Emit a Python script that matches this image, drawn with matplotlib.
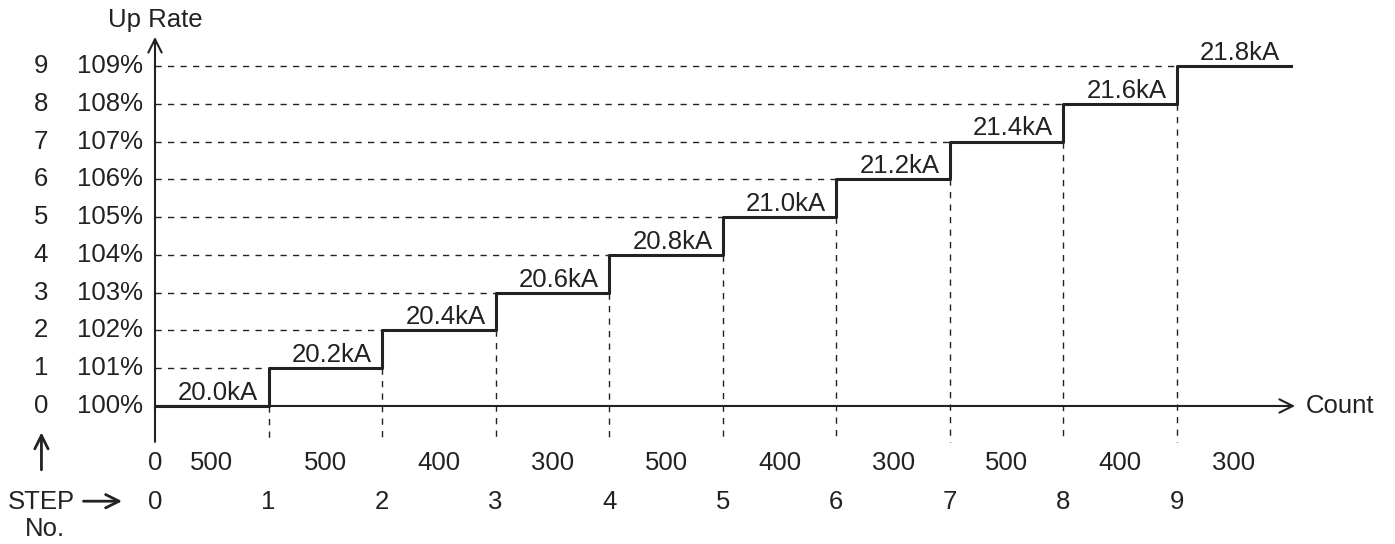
import matplotlib.pyplot as plt

# step data
steps = [0, 1, 2, 3, 4, 5, 6, 7, 8, 9]
rates = [100, 101, 102, 103, 104, 105, 106, 107, 108, 109]
currents = ['20.0kA', '20.2kA', '20.4kA', '20.6kA', '20.8kA',
            '21.0kA', '21.2kA', '21.4kA', '21.6kA', '21.8kA']
counts = [500, 500, 400, 300, 500, 400, 300, 500, 400, 300]

plt.rcParams['font.family'] = ['Liberation Sans', 'DejaVu Sans']
FS = 18.5
INK = '#222222'
DASH = (0, (4.5, 4.5))

fig = plt.figure(figsize=(13.95, 5.44), dpi=100)
ax = fig.add_axes([0, 0, 1, 1])
ax.set_xlim(-1.365, 10.92)
ax.set_ylim(96.347, 110.746)
ax.axis('off')

x_end = steps[-1] + 1
arrow = dict(arrowstyle='->', lw=1.5, color=INK, mutation_scale=24, shrinkA=0, shrinkB=0)

# dashed guides
for s, r in zip(steps[1:], rates[1:]):
    ax.plot([0, s], [r, r], color=INK, lw=1.0, linestyle=DASH)
for s, r in zip(steps[1:], rates[:-1]):
    ax.plot([s, s], [r, 99.05], color=INK, lw=1.0, linestyle=DASH)

# axes with arrows
ax.annotate('', xy=(0, 109.77), xytext=(0, 99.05), arrowprops=arrow)
ax.annotate('', xy=(10.04, 100), xytext=(0, 100), arrowprops=arrow)

# step line
ax.step(steps + [x_end], rates + [rates[-1]], where='post', color=INK, lw=2.2)

# current labels above each level
for s, r, c in zip(steps, rates, currents):
    ax.text(s + 1 - 0.09, r + 0.16, c, ha='right', va='baseline', fontsize=FS, color=INK)

# left labels
for s, r in zip(steps, rates):
    ax.text(-1.004, r, str(s), ha='center', va='center', fontsize=FS, color=INK)
    ax.text(-0.106, r, f'{r}%', ha='right', va='center', fontsize=FS, color=INK)

ax.text(0, 110.22, 'Up Rate', ha='center', va='center', fontsize=FS, color=INK)
ax.text(10.13, 100, 'Count', ha='left', va='center', fontsize=FS, color=INK)

# count row
ax.text(0, 98.49, '0', ha='center', va='center', fontsize=FS, color=INK)
for s, n in zip(steps, counts):
    ax.text(s + 0.5, 98.49, str(n), ha='center', va='center', fontsize=FS, color=INK)

# step number row
for s in steps:
    ax.text(s, 97.46, str(s), ha='center', va='center', fontsize=FS, color=INK)

big_arrow = dict(arrow, lw=2.0)
ax.annotate('', xy=(-1.0, 99.30), xytext=(-1.0, 98.31), arrowprops=big_arrow)
ax.text(-1.0, 97.46, 'STEP', ha='center', va='center', fontsize=FS, color=INK)
ax.annotate('', xy=(-0.29, 97.48), xytext=(-0.63, 97.48), arrowprops=big_arrow)
ax.text(-0.97, 96.74, 'No.', ha='center', va='center', fontsize=FS, color=INK)

fig.savefig('out.png', dpi=100)
